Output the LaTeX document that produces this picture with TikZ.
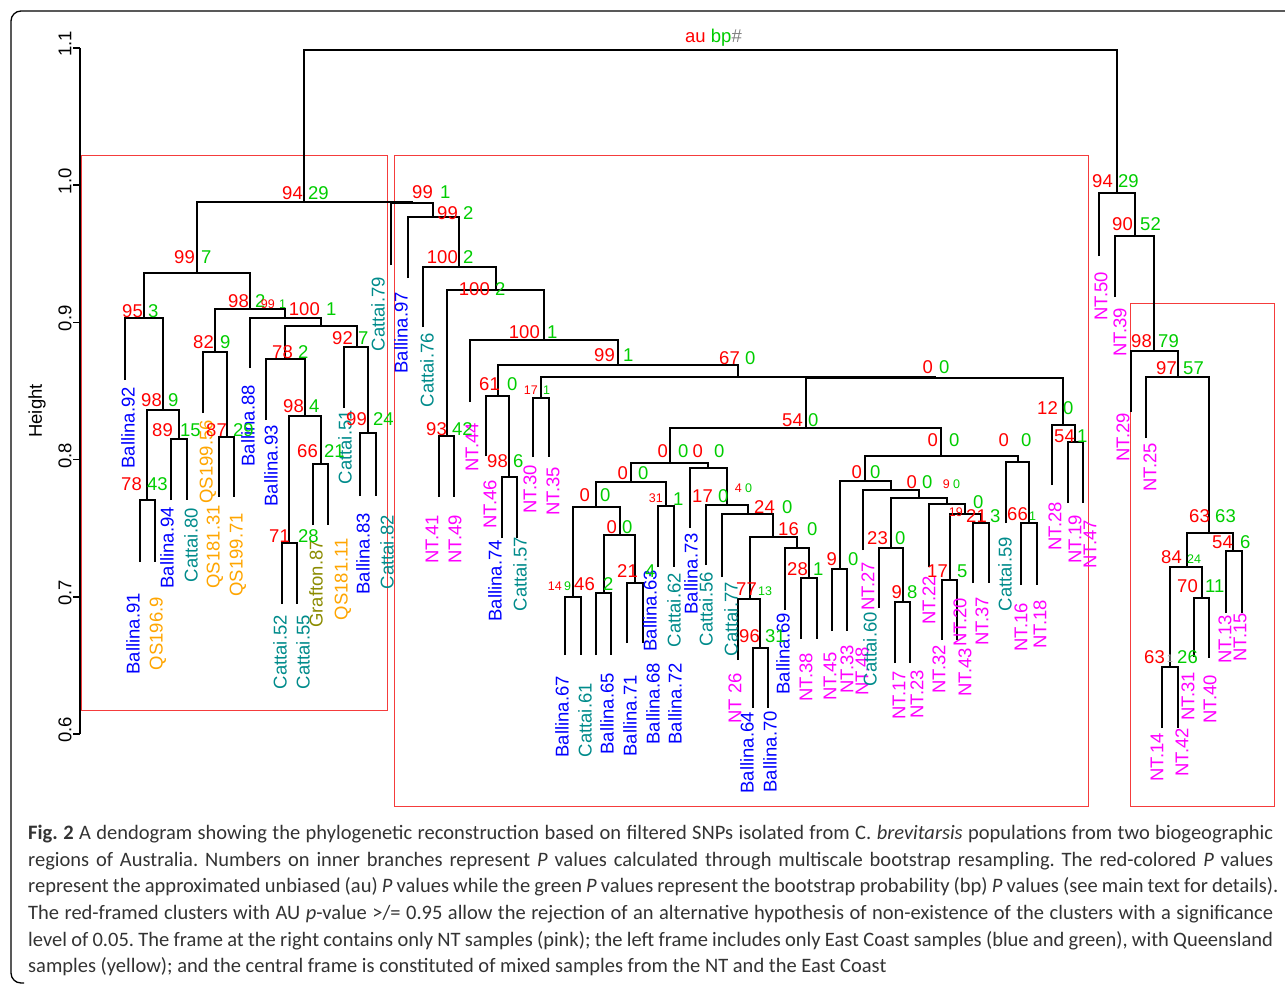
\documentclass[tikz,border=0pt]{standalone}
\usepackage{fontspec}
\setmainfont{Liberation Sans}
\newfontfamily\capfont{Carlito}
\definecolor{cB}{RGB}{0,0,255}
\definecolor{cT}{RGB}{0,139,139}
\definecolor{cO}{RGB}{255,165,0}
\definecolor{cG}{RGB}{139,139,0}
\definecolor{cM}{RGB}{255,0,255}
\definecolor{cR}{RGB}{255,0,0}
\definecolor{cF}{RGB}{245,60,60}
\definecolor{cGr}{RGB}{0,205,0}
\definecolor{cCap}{RGB}{51,51,51}
\frenchspacing
\begin{document}
\begin{tikzpicture}[x=1pt,y=-1pt,
  dline/.style={line width=2pt,black},
  fr/.style={draw=cF,line width=1pt},
  lf/.style={rotate=90,inner sep=0pt,font=\fontsize{18.5}{20}\selectfont},
  aul/.style={text=cR,inner sep=0pt,font=\fontsize{18.5}{20}\selectfont},
  bpl/.style={text=cGr,inner sep=0pt,font=\fontsize{18.5}{20}\selectfont},
  aus/.style={text=cR,inner sep=0pt,font=\fontsize{12.5}{14}\selectfont},
  bps/.style={text=cGr,inner sep=0pt,font=\fontsize{12.5}{14}\selectfont},
  axl/.style={rotate=90,inner sep=0pt,font=\fontsize{18.5}{20}\selectfont},
  capt/.style={inner sep=0pt,text=cCap,font=\capfont\fontsize{20.5}{22}\selectfont\frenchspacing}]
\useasboundingbox (0,0) rectangle (1285,985);
% outer frame
\draw[line width=1.3pt,rounded corners=10pt] (1285,11) -- (11,11) -- (11,983) -- (24,983);
% title
\node[inner sep=0pt,anchor=base west,font=\fontsize{18.5}{20}\selectfont] (title) at (685,42)
  {\textcolor{cR}{au} \textcolor{cGr}{bp}\textcolor{gray}{\#}};
% axis
\draw[line width=1.5pt] (80,48) -- (80,734);
\foreach \t/\y in {1.1/48,1.0/185.2,0.9/322.4,0.8/459.6,0.7/596.8,0.6/734} {
  \draw[line width=1.5pt] (73,\y) -- (80,\y);
  \node[axl] at (65,\y-4) {\t};
}
\node[axl] (ylab) at (37,411) {Height};
% red frames
\draw[fr] (81.5,155) rectangle (387,710);
\draw[fr] (394,155) rectangle (1088,806);
\draw[fr] (1130,303) rectangle (1274,806);
% leaves
\foreach \n/\x/\y in {1/125/380,2/140/562,3/155/562,4/171/500,5/187/500,6/203/413,7/219/497,8/234/497,
  9/250/368,10/266/420,11/282/604,12/297/604,13/313/525,14/328/525,15/344/408,16/360/496,17/376/496,18/391/265,
  19/408/278,20/423/327,21/439/497,22/454/497,23/470/402,24/486/456,25/502/538,26/517/538,27/533/457,28/549/457,
  29/565/655,30/581/655,31/596/655,32/611/655,33/627/643,34/643/643,35/658/567,36/674/567,37/690/528,38/706/565,
  39/722/577,40/738/660,41/753/708,42/768/708,43/785/610,44/801/639,45/817/639,46/832/631,47/847/631,48/863/550,
  49/879/608,50/895/663,51/910/663,52/929/567,53/942/640,54/957/640,55/973/583,56/989/583,57/1006/523,58/1021/585,
  59/1037/585,60/1052/485,61/1068/503,62/1083/503,63/1099/256,64/1115/297,65/1131/412,66/1146/438,67/1162/728,
  68/1178/728,69/1194/657,70/1209/658,71/1226/613,72/1242/613}
  \coordinate (l\n) at (\x,\y);
% internal nodes
\foreach \n/\x/\y in {root/710/50,n94/304/202,n997/197/273,nB/144/318,nD/163/410,nE/147/500,nF/179/439,
  nC/250/309,nG/215/352,nI/227/437,nH/285/318,nJ/321/326,nK/285/359,nM/305/416,nN/289/543,nO/321/464,
  nL/357/347,nP/368/433,n991/412/203,n992/433/217,nQ/459/267,nR/496/290,nS/447/436,nT/544/340,nU/618/365,
  nV/498/396,nX/509/477,nW/738/377,nY/541/398,nZ/935/378,nAB/1063/425,nAC/1075/442,nAA/806/428,nAD/670/463,
  nAF/631/482,nAH/596/507,nAJ/573/597,nAK/620/535,nAL/604/593,nAM/635/583,nAI/666/506,nAG/708/468,
  nAN/727/505,nAO/748/514,nAP/773/537,nAR/750/599,nBF/760/648,nAQ/797/548,nAS/809/578,nAE/941/456,
  nAT/865/481,nBC/840/569,nAU/891/490,nAV/919/498,nBD/891/548,nBE/903/602,nAW/947/504,nAX/965/514,
  nAY/950/580,nAZ/981/523,nBA/1018/462,nBB/1029/523,nBG/1117/193,nBH/1135/236,nBI/1154/351,nBJ/1178/377,
  nBK/1209/533,nBL/1187/567,nBN/1170/667,nBO/1202/598,nBM/1233/551}
  \coordinate (\n) at (\x,\y);
% edges
\foreach \a/\p/\b in {n94/root/nBG,n997/n94/n991,nB/n997/nC,l1/nB/nD,nE/nD/nF,l2/nE/l3,l4/nF/l5,
  nG/nC/nH,l6/nG/nI,l7/nI/l8,l9/nH/nJ,nK/nJ/nL,l10/nK/nM,nN/nM/nO,l11/nN/l12,l13/nO/l14,l15/nL/nP,l16/nP/l17,
  l18/n991/n992,l19/n992/nQ,l20/nQ/nR,nS/nR/nT,l21/nS/l22,l23/nT/nU,nV/nU/nW,l24/nV/nX,l25/nX/l26,
  nY/nW/nZ,l27/nY/l28,nAA/nZ/nAB,l60/nAB/nAC,l61/nAC/l62,nAD/nAA/nAE,nAF/nAD/nAG,nAH/nAF/nAI,
  nAJ/nAH/nAK,l29/nAJ/l30,nAL/nAK/nAM,l31/nAL/l32,l33/nAM/l34,l35/nAI/l36,l37/nAG/nAN,l38/nAN/nAO,
  l39/nAO/nAP,nAR/nAP/nAQ,l40/nAR/nBF,l41/nBF/l42,l43/nAQ/nAS,l44/nAS/l45,nAT/nAE/nBA,nBC/nAT/nAU,
  l46/nBC/l47,l48/nAU/nAV,nBD/nAV/nAW,l49/nBD/nBE,l50/nBE/l51,l52/nAW/nAX,nAY/nAX/nAZ,l53/nAY/l54,
  l55/nAZ/l56,l57/nBA/nBB,l58/nBB/l59,l63/nBG/nBH,l64/nBH/nBI,l65/nBI/nBJ,l66/nBJ/nBK,nBL/nBK/nBM,
  nBN/nBL/nBO,l67/nBN/l68,l69/nBO/l70,l71/nBM/l72}
  \draw[dline] (\a) |- (\p) -| (\b);
% leaf labels
\foreach \nm/\t/\c/\x/\y in {
  tA/Ballina.92/cB/128/387, tB/Ballina.91/cB/133/593, tC/QS196.9/cO/158/597, tD/Ballina.94/cB/167/507,
  tE/Cattai.80/cT/191/508, tF/QS199.56/cO/208/420, tG/QS181.31/cO/215/505, tH/QS199.71/cO/238/513,
  tI/Ballina.88/cB/248/385, tJ/Ballina.93/cB/271/425, tK/Cattai.52/cT/280/615, tL/Cattai.55/cT/303/615,
  tM/Grafton.87/cG/316/540, tN/QS181.11/cO/343/538, tO/Cattai.51/cT/345/410, tP/Ballina.83/cB/363/513,
  tQ/Cattai.82/cT/387/515, tR/Cattai.79/cT/378/277,
  tS/Ballina.97/cB/401/292, tT/Cattai.76/cT/427/333, tU/NT.41/cM/432/515, tV/NT.49/cM/455/515,
  tW/NT.44/cM/472/423, tX/NT.46/cM/490/480, tY/Ballina.74/cB/495/540, tZ/Cattai.57/cT/520/537,
  ua/NT.30/cM/530/465, ub/NT.35/cM/553/467, uc/Ballina.67/cB/562/676, ud/Cattai.61/cT/585/683,
  ue/Ballina.65/cB/607/673, uf/Ballina.71/cB/630/675, ug/Ballina.68/cB/653/663, uh/Ballina.72/cB/675/663,
  ui/Ballina.63/cB/650/570, uj/Cattai.62/cT/674/573, uk/Ballina.73/cB/691/533, ul/Cattai.56/cT/706/572,
  um/Cattai.77/cT/731/582, un/NT 26/cM/735/673, uo/Ballina.64/cB/747/712, up/Ballina.70/cB/770/711,
  uq/Ballina.69/cB/783/613, ur/NT.38/cM/806/653, us/NT.45/cM/830/652, ut/NT.33/cM/847/645,
  uu/NT.48/cM/862/647, uv/Cattai.60/cT/870/612, uw/NT.27/cM/868/562, ux/NT.17/cM/899/671,
  uy/NT.23/cM/917/670, uz/NT.22/cM/929/576, va/NT.32/cM/939/645, vb/NT.43/cM/965/648,
  vc/NT.20/cM/960/598, vd/NT.37/cM/982/597, ve/Cattai.59/cT/1005/537, vf/NT.16/cM/1021/603,
  vg/NT.18/cM/1040/600, vh/NT.28/cM/1055/502, vi/NT.19/cM/1075/515, vj/NT.47/cM/1090/520,
  vk/NT.50/cM/1101/272, vl/NT.39/cM/1120/308, vm/NT.29/cM/1123/413, vn/NT.25/cM/1150/443,
  vo/NT.13/cM/1225/615, vp/NT.15/cM/1240/613, vq/NT.14/cM/1157/733, vr/NT.42/cM/1182/728,
  vs/NT.31/cM/1188/672, vt/NT.40/cM/1210/675}
  \node[lf,text=\c,anchor=east] (\nm) at (\x,\y) {\t};
% au / bp values
\foreach \nm/\ar/\bl/\y/\au/\bp in {
  p94/303/308/199/94/29, p997/195/201/263/99/7, pB/143/148/317/95/3, pD/162/168/406/98/9,
  pE/142/147/490/78/43, pF/173/180/436/89/15, pC/249/255/307/98/2, pJ/320/326/315/100/1,
  pG/214/220/348/82/9, pI/227/233/436/87/29, pK/293/298/358/78/2, pL/353/358/344/92/7,
  pM/304/309/412/98/4, pN/290/298/542/71/28, pO/318/324/457/66/21, pP/367/373/425/99/24,
  p991/433/440/198/99/1, p992/458/463/219/99/2, pQ/458/463/263/100/2, pR/490/495/295/100/2,
  pS/447/452/435/93/42, pT/540/547/338/100/1, pU/615/623/361/99/1, pW/740/745/364/67/0,
  pV/500/507/390/61/0, pX/508/513/467/98/6, pZ/933/939/373/0/0, pAB/1058/1063/414/12/0,
  pAC/1075/1077/442/54/1, pAA/803/808/426/54/0, pAE/938/949/446/0/0, pBA/1009/1021/446/0/0,
  pAD/668/678/457/0/0, pAG/703/714/457/0/0, pAF/628/638/479/0/0, pAH/590/600/501/0/0,
  pAK/617/622/533/0/0, pAL/595/603/590/46/2, pAM/638/645/577/21/4, pAN/713/718/502/17/0,
  pAP/775/782/513/24/0, pAQ/799/807/535/16/0, pBF/760/765/642/96/31, pAS/808/813/575/28/1,
  pBC/837/848/565/9/0, pAT/862/870/478/0/0, pBD/888/895/544/23/0, pAV/917/922/488/0/0,
  pAZ/987/990/522/21/3, pAY/948/957/577/17/5, pBE/902/907/598/9/8,
  pBG/1113/1118/187/94/29, pBH/1133/1140/230/90/52, pBI/1152/1158/347/98/79, pBJ/1177/1183/374/97/57,
  pBK/1210/1215/522/63/63, pBM/1233/1240/548/54/6, pBN/1165/1177/663/63/26, pBO/1198/1205/592/70/11}
  {\node[aul,anchor=base east] (\nm a) at (\ar,\y) {\au};
   \node[bpl,anchor=base west] (\nm b) at (\bl,\y) {\bp};}
\foreach \nm/\ar/\bl/\y/\au/\bp in {
  pH/275/279/308/99/1, pY/538/543/394/17/1, pAJ/562/564/590/14/9, pAO/742/745/492/4/0, pAW/950/953/488/9/0}
  {\node[aus,anchor=base east] (\nm a) at (\ar,\y) {\au};
   \node[bps,anchor=base west] (\nm b) at (\bl,\y) {\bp};}
\node[aus,anchor=base east] (pAIa) at (663,502) {31};
\node[bpl,anchor=base west] (pAIb) at (673,505) {1};
\node[aul,anchor=base east] (pARa) at (757,595) {77};
\node[bps,anchor=base west] (pARb) at (758,595) {13};
\node[aul,anchor=base east] (pBBa) at (1028,520) {66};
\node[bps,anchor=base west] (pBBb) at (1029,520) {1};
\node[aul,anchor=base east] (pBLa) at (1182,563) {84};
\node[bps,anchor=base west] (pBLb) at (1187,563) {24};
\node[aus,anchor=base east] (pAXa) at (963,516) {19};
\node[bpl,anchor=base west] (pAXb) at (973,508) {0};
\node[inner sep=0pt,text=gray!60,font=\fontsize{11}{12}\selectfont,anchor=base] (pBNc) at (1170,662) {1};
% caption
\node[capt,anchor=base west] (cap1) at (28,839) {\makebox[1245pt][s]{\textbf{Fig. 2} A dendogram showing the phylogenetic reconstruction based on filtered SNPs isolated from C. \textit{brevitarsis} populations from two biogeographic}};
\node[capt,anchor=base west] (cap2) at (28,866) {\makebox[1245pt][s]{regions of Australia. Numbers on inner branches represent \textit{P} values calculated through multiscale bootstrap resampling. The red-colored \textit{P} values}};
\node[capt,anchor=base west] (cap3) at (28,892) {\makebox[1250pt][s]{represent the approximated unbiased (au) \textit{P} values while the green \textit{P} values represent the bootstrap probability (bp) \textit{P} values (see main text for details).}};
\node[capt,anchor=base west] (cap4) at (28,919) {\makebox[1245pt][s]{The red-framed clusters with AU \textit{p}-value >/= 0.95 allow the rejection of an alternative hypothesis of non-existence of the clusters with a significance}};
\node[capt,anchor=base west] (cap5) at (28,946) {\makebox[1245pt][s]{level of 0.05. The frame at the right contains only NT samples (pink); the left frame includes only East Coast samples (blue and green), with Queensland}};
\node[capt,anchor=base west] (cap6) at (28,972) {samples (yellow); and the central frame is constituted of mixed samples from the NT and the East Coast};
\end{tikzpicture}
\end{document}
